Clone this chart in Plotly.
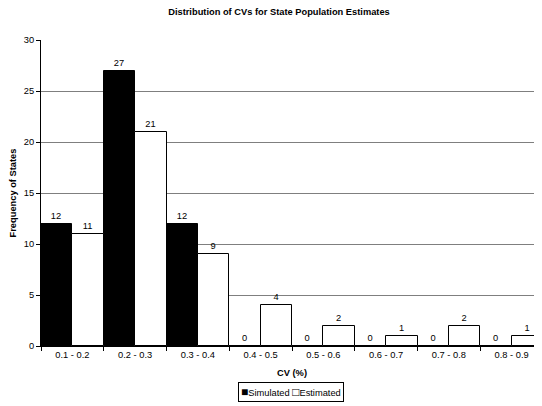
import plotly.graph_objects as go

categories = ["0.1 - 0.2", "0.2 - 0.3", "0.3 - 0.4", "0.4 - 0.5", "0.5 - 0.6", "0.6 - 0.7", "0.7 - 0.8", "0.8 - 0.9"]
simulated = [12, 27, 12, 0, 0, 0, 0, 0]
estimated = [11, 21, 9, 4, 2, 1, 2, 1]
series_names = ["Simulated", "Estimated"]

font = "Liberation Sans, Arial, sans-serif"
fs = 9.3
fig = go.Figure()
fig.add_trace(go.Bar(x=categories, y=simulated, name=series_names[0],
                     marker=dict(color="black", line=dict(color="black", width=1)),
                     text=simulated, textposition="outside", cliponaxis=False,
                     textfont=dict(size=fs, color="black")))
fig.add_trace(go.Bar(x=categories, y=estimated, name=series_names[1],
                     marker=dict(color="white", line=dict(color="black", width=1)),
                     text=estimated, textposition="outside", cliponaxis=False,
                     textfont=dict(size=fs, color="black")))

sq = "<span style='font-size:12px'>{}</span>"
legend_text = sq.format("■") + series_names[0] + " " + sq.format("□") + series_names[1]

# page has an 8px body margin, so the figure is laid out 8px up/left of the target
fig.update_layout(
    width=542, height=406,
    margin=dict(l=33, r=7, t=32, b=68, autoexpand=False),
    paper_bgcolor="white", plot_bgcolor="white",
    font=dict(family=font, size=fs, color="black"),
    title=dict(text="<b>Distribution of CVs for State Population Estimates</b>",
               x=0.5, xanchor="center", y=0.992, yanchor="middle", font=dict(size=fs)),
    barmode="group", bargap=0, bargroupgap=0,
    showlegend=False,
    uniformtext=dict(minsize=fs, mode="show"),
    annotations=[dict(text=legend_text,
                      xref="paper", yref="paper", x=0.499, y=-0.150, xanchor="center", yanchor="middle",
                      showarrow=False, bordercolor="black", borderwidth=1, borderpad=2,
                      font=dict(size=fs, color="black", family=font))],
)
fig.update_xaxes(title=dict(text="<b>CV (%)</b>", font=dict(size=fs), standoff=10),
                 automargin=False,
                 showline=True, linecolor="black", linewidth=1,
                 ticks="outside", ticklen=4, tickcolor="black",
                 tickson="boundaries", showgrid=False, tickfont=dict(size=fs))
fig.update_yaxes(title=dict(text="<b>Frequency of States</b>", font=dict(size=fs), standoff=6),
                 automargin=False,
                 range=[0, 30], dtick=5, showline=True, linecolor="black", linewidth=1,
                 ticks="outside", ticklen=4, tickcolor="black",
                 showgrid=True, gridcolor="#7f7f7f", gridwidth=1, zeroline=False,
                 tickfont=dict(size=fs))

fig.write_html("out.html")
